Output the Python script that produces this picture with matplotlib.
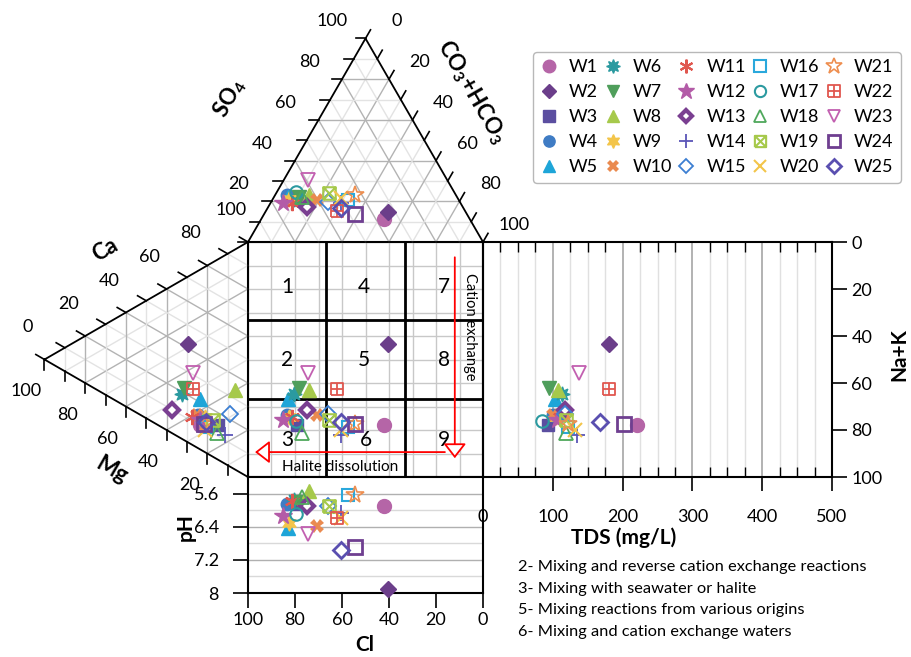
import numpy as np
import matplotlib.pyplot as plt
from matplotlib.lines import Line2D
from matplotlib.path import Path
from matplotlib.transforms import Affine2D
from matplotlib.ticker import MultipleLocator

plt.rcParams['font.family'] = ['Lato', 'DejaVu Sans']
plt.rcParams['font.size'] = 13
plt.rcParams['mathtext.fontset'] = 'custom'
plt.rcParams['mathtext.rm'] = 'Lato'
plt.rcParams['mathtext.bf'] = 'Lato:bold'

samples = ['W%d' % i for i in range(1, 26)]
# anions, meq %  (CO3+HCO3 is the rest)
cl = [36.3, 32.9, 68.8, 72.0, 72.1, 69.8, 67.2, 62.3, 72.0, 60.4, 71.9, 75.5, 66.2,
      51.1, 55.9, 47.0, 67.4, 65.9, 53.7, 49.6, 42.9, 54.6, 59.1, 47.7, 52.2]
so4 = [11.3, 14.9, 21.0, 23.0, 22.0, 21.0, 22.0, 23.1, 21.0, 20.6, 19.0, 19.0, 17.3,
       19.0, 19.8, 20.6, 24.7, 22.0, 23.9, 21.5, 23.1, 15.4, 30.5, 13.6, 16.5]
# cations, meq %  (Ca is the rest)
mg = [23.6, 29.3, 14.6, 24.6, 23.6, 32.6, 31.3, 6.4, 21.0, 25.0, 27.7, 23.6, 37.2,
      11.3, 8.8, 20.0, 21.0, 15.4, 17.2, 21.0, 21.0, 26.9, 27.2, 21.6, 20.7]
nak = [66.0, 28.6, 70.6, 61.3, 55.1, 48.2, 46.6, 59.6, 64.0, 61.3, 60.5, 63.9, 52.7,
       76.4, 68.8, 68.6, 65.5, 73.6, 67.1, 69.7, 67.0, 49.0, 42.1, 66.7, 66.2]
ph = [5.9, 7.9, 5.85, 5.84, 6.42, 5.75, 5.8, 5.53, 6.3, 6.38, 5.78, 6.14, 5.9,
      6.06, 5.9, 5.63, 6.1, 5.69, 5.9, 6.18, 5.63, 6.18, 6.58, 6.89, 6.97]
tds = [220, 180, 93, 100, 103, 113, 95, 108, 104, 100, 110, 106, 117,
       134, 118, 122, 85, 119, 119, 132, 122, 181, 137, 202, 168]

notes = ['2- Mixing and reverse cation exchange reactions',
         '3- Mixing with seawater or halite',
         '5- Mixing reactions from various origins',
         '6- Mixing and cation exchange waters']

# projection of the triangle points into the square
cl_p = np.array(cl) + np.array(so4) / 2
nak_p = np.array(nak) + np.array(mg) / 2

# marker paths: box with x, box with +
box_x = Path([(-1, -1), (1, -1), (1, 1), (-1, 1), (-1, -1), (-1, -1), (1, 1), (-1, 1), (1, -1)],
             [1, 2, 2, 2, 2, 1, 2, 1, 2])
box_p = Path([(-1, -1), (1, -1), (1, 1), (-1, 1), (-1, -1), (0, -1), (0, 1), (-1, 0), (1, 0)],
             [1, 2, 2, 2, 2, 1, 2, 1, 2])

styles = [
    dict(marker='o', color='#b565a7', ms=10),
    dict(marker='D', color='#6b3e8a', ms=8),
    dict(marker='s', color='#5b4ea0', ms=9),
    dict(marker='o', color='#3f7cc4', ms=9),
    dict(marker='^', color='#1ea5d8', ms=10),
    dict(marker=(8, 1, 0), color='#2b9aa0', ms=11),
    dict(marker='v', color='#4f9e5b', ms=10),
    dict(marker='^', color='#a6c94b', ms=10),
    dict(marker=(6, 1, 0), color='#f3c54a', ms=11),
    dict(marker='X', color='#ea8a4f', ms=10, mew=0),
    dict(marker=(6, 2, 0), color='#e0574f', ms=11, mew=1.5),
    dict(marker='*', color='#b35ba7', ms=13),
    dict(marker='D', color='#7a3f91', mfc='white', ms=7, mew=3),
    dict(marker='+', color='#5b55b8', ms=11, mew=1.3),
    dict(marker='D', color='#3c7fd2', mfc='none', ms=8, mew=1.3),
    dict(marker='s', color='#2aa8dc', mfc='none', ms=9, mew=1.5),
    dict(marker='o', color='#2b9aa0', mfc='none', ms=9, mew=1.5),
    dict(marker='^', color='#4fa85c', mfc='none', ms=10, mew=1.3),
    dict(marker=box_x, color='#a6c94b', mfc='none', ms=9, mew=1.5),
    dict(marker='x', color='#f3c54a', ms=10, mew=1.5),
    dict(marker='*', color='#ee8e4f', mfc='none', ms=13, mew=1.2),
    dict(marker=box_p, color='#e0574f', mfc='none', ms=9, mew=1.3),
    dict(marker='v', color='#c25fb0', mfc='none', ms=10, mew=1.3),
    dict(marker='s', color='#6f3f90', mfc='none', ms=10, mew=2),
    dict(marker='D', color='#5a4fb0', mfc='none', ms=8, mew=2),
]

W, H = 911, 657
S = 235.0                # side of square (px)
X0, Y0 = 248.0, 242.0    # top left corner of the square
HT = S * np.sqrt(3) / 2
TDS_W = 349.0
PH_H = 116.0

fig = plt.figure(figsize=(W / 100, H / 100), dpi=100)


def frac(l, t, r, b):
    return [l / W, 1 - b / H, (r - l) / W, (b - t) / H]


ax_sq = fig.add_axes(frac(X0, Y0, X0 + S, Y0 + S))
ax_ph = fig.add_axes(frac(X0, Y0 + S, X0 + S, Y0 + S + PH_H))
ax_tds = fig.add_axes(frac(X0 + S, Y0, X0 + S + TDS_W, Y0 + S))
ov = fig.add_axes([0, 0, 1, 1])
ov.set_xlim(0, W)
ov.set_ylim(H, 0)
ov.axis('off')

# ---- square
ax_sq.set_xlim(100, 0)
ax_sq.set_ylim(100, 0)
ax_sq.set_xticks(range(0, 101, 10))
ax_sq.set_yticks(range(0, 101, 10))
ax_sq.tick_params(length=0, labelbottom=False, labelleft=False)
ax_sq.grid(color='#c8c8c8', lw=1)
for v in (100 / 3, 200 / 3):
    ax_sq.axvline(v, color='k', lw=2)
    ax_sq.axhline(v, color='k', lw=2)
for sp in ax_sq.spines.values():
    sp.set_linewidth(1.5)

num_pos = [(83.4, 19.1), (83.4, 50.2), (83.4, 84.3), (50.6, 19.1), (50.6, 50.2), (50.0, 84.3),
           (16.6, 19.1), (16.6, 50.2), (16.6, 84.3)]
for i, (x, y) in enumerate(num_pos):
    ax_sq.text(x, y, str(i + 1), ha='center', va='center', fontsize=15)

ax_sq.annotate('', xy=(12, 92), xytext=(12, 6.5),
               arrowprops=dict(arrowstyle='-|>,head_length=0.45,head_width=0.35', mutation_scale=20,
                               ec='red', fc='white', lw=1.3, shrinkA=0, shrinkB=0))
ax_sq.annotate('', xy=(97, 89.4), xytext=(16.2, 89.4),
               arrowprops=dict(arrowstyle='-|>,head_length=0.45,head_width=0.35', mutation_scale=20,
                               ec='red', fc='white', lw=1.3, shrinkA=0, shrinkB=0))
ax_sq.text(5.5, 36.2, 'Cation exchange', rotation=-90, ha='center', va='center', fontsize=10.5)
ax_sq.text(60.9, 95.7, 'Halite dissolution', ha='center', va='center', fontsize=11)

# ---- TDS panel
ax_tds.patch.set_alpha(0)
ax_tds.set_xlim(0, 500)
ax_tds.set_ylim(100, 0)
ax_tds.xaxis.set_major_locator(MultipleLocator(100))
ax_tds.xaxis.set_minor_locator(MultipleLocator(25))
ax_tds.yaxis.set_major_locator(MultipleLocator(20))
ax_tds.yaxis.tick_right()
ax_tds.tick_params(axis='x', which='major', direction='out', length=10, width=1.2, pad=13)
ax_tds.tick_params(axis='x', which='minor', direction='in', length=7, top=True, width=1)
ax_tds.tick_params(axis='y', which='major', direction='out', length=11, width=1.2, pad=3)
ax_tds.grid(axis='x', which='major', color='#a6a6a6', lw=1.2)
ax_tds.grid(axis='x', which='minor', color='#e0e0e0', lw=1)
for sp in ax_tds.spines.values():
    sp.set_linewidth(1.5)

# ---- pH panel
ax_ph.set_xlim(100, 0)
ax_ph.set_ylim(8.0, 5.2)
ax_ph.set_xticks(range(0, 101, 20))
ax_ph.set_yticks([5.6, 6.4, 7.2, 8.0])
ax_ph.set_yticklabels(['5.6', '6.4', '7.2', '8'])
ax_ph.set_yticks([6.0, 6.8, 7.6], minor=True)
ax_ph.tick_params(axis='y', which='minor', length=0)
ax_ph.tick_params(which='major', direction='out', length=11, width=1.2, pad=3)
ax_ph.tick_params(axis='y', which='major', pad=10)
ax_ph.grid(axis='y', which='major', color='#b0b0b0', lw=1)
ax_ph.grid(axis='y', which='minor', color='#d9d9d9', lw=1)
for sp in ax_ph.spines.values():
    sp.set_linewidth(1.5)

# ---- ternary transforms (percent -> pixel)
T_top = Affine2D.from_values(-S / 100, 0, -S / 200, -HT / 100, X0 + S, Y0) + ov.transData
T_left = Affine2D.from_values(-HT / 100, S / 200, 0, S / 100, X0, Y0) + ov.transData

d = 10 / S * 100  # tick length in percent
for k in range(10, 100, 10):
    col = '#b3b3b3' if k % 20 == 0 else '#e3e3e3'
    for T in (T_top, T_left):
        ov.plot([100 - k, 0], [k, k], color=col, lw=1, transform=T, zorder=1)
        ov.plot([k, k], [0, 100 - k], color=col, lw=1, transform=T, zorder=1)
        ov.plot([100 - k, 0], [0, 100 - k], color=col, lw=1, transform=T, zorder=1)

for T in (T_top, T_left):
    ov.plot([100, 0, 0, 100], [0, 0, 100, 0], color='k', lw=1.3, transform=T, zorder=2,
            solid_joinstyle='miter')

for k in range(0, 101, 10):
    # SO4 side
    ov.plot([100 - k, 100 - k + d], [k, k], color='k', lw=1.2, transform=T_top)
    # CO3+HCO3 side
    ov.plot([0, -d], [100 - k, 100 - k + d], color='k', lw=1.2, transform=T_top)
    # Ca side
    ov.plot([100 - k, 100 - k + d], [0, -d], color='k', lw=1.2, transform=T_left)
    # Mg side
    ov.plot([k, k], [100 - k, 100 - k + d], color='k', lw=1.2, transform=T_left)

for k in range(0, 101, 20):
    if k > 0:
        ov.annotate(str(k), (100 - k, k), xycoords=T_top, xytext=(-33, 17),
                    textcoords='offset pixels', ha='center', va='center')
        ov.annotate(str(k), (k, 100 - k), xycoords=T_left, xytext=(-18, -32),
                    textcoords='offset pixels', ha='center', va='center')
    ov.annotate(str(k), (0, 100 - k), xycoords=T_top, xytext=(31, 17),
                textcoords='offset pixels', ha='center', va='center')
    ov.annotate(str(k), (100 - k, 0), xycoords=T_left, xytext=(-17, 32),
                textcoords='offset pixels', ha='center', va='center')

# axis titles
tk = dict(fontsize=16, fontweight='bold', ha='center', va='center')
ov.text(230, 98, r'SO$_\mathbf{4}$', rotation=60, **tk)
ov.text(472, 92, r'CO$_\mathbf{3}$+HCO$_\mathbf{3}$', rotation=-60, **tk)
ov.text(105, 250, 'Ca', rotation=30, **tk)
ov.text(112, 470, 'Mg', rotation=-30, **tk)
tk['fontsize'] = 15
ov.text(186, 527, 'pH', rotation=90, **tk)
ov.text(365, 645, 'Cl', **tk)
ov.text(624, 538, 'TDS (mg/L)', **tk)
ov.text(899, 355, 'Na+K', rotation=90, **tk)

for i, n in enumerate(notes):
    ov.text(518, 567 + 21.7 * i, n, ha='left', va='center', fontsize=11.8)

# ---- data
handles = []
for i, st in enumerate(styles):
    kw = dict(ls='none', clip_on=False, zorder=5, **st)
    ov.plot([cl[i]], [so4[i]], transform=T_top, **kw)
    ov.plot([mg[i]], [nak[i]], transform=T_left, **kw)
    ax_sq.plot([cl_p[i]], [nak_p[i]], **kw)
    ax_tds.plot([tds[i]], [nak_p[i]], **kw)
    ax_ph.plot([cl_p[i]], [ph[i]], **kw)
    handles.append(Line2D([], [], ls='none', label=samples[i], **st))

ov.legend(handles=handles, ncol=5, loc='upper left', bbox_to_anchor=(533 / W, 1 - 52 / H),
          bbox_transform=fig.transFigure, fontsize=13, markerscale=0.9, handlelength=1.0,
          handletextpad=0.6, columnspacing=0.3, labelspacing=0.5, borderpad=0.4,
          borderaxespad=0, frameon=True, fancybox=True, edgecolor='#a6a6a6')

fig.savefig('out.png', dpi=100)
